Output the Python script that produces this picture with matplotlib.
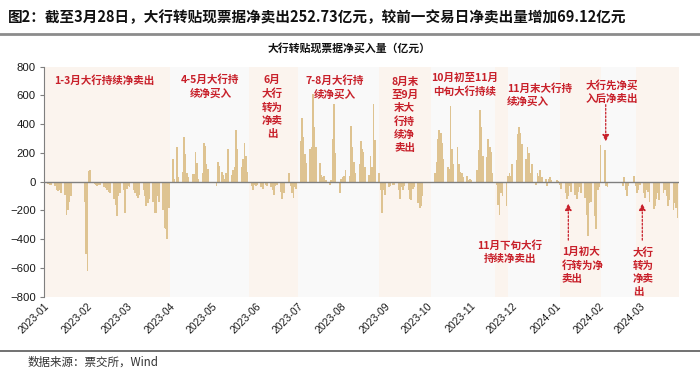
import datetime as dt
import matplotlib
matplotlib.use('Agg')
import matplotlib.pyplot as plt
import matplotlib.dates as mdates
from matplotlib.lines import Line2D

plt.rcParams['font.family'] = ['Liberation Sans', 'Noto Sans CJK SC']
CJK = ['Noto Sans CJK SC', 'DejaVu Sans']

# ---- data: 大行转贴现票据净买入量 (亿元), one value per trading day ----
jan23_days = [3, 4, 5, 6, 9, 10, 11, 12, 13, 16, 17, 18, 19, 20, 30, 31]
jan23_vals = [-10, -15, -20, -25, -30, -60, -65, -60, -80, -90, -235, -200, -140, -100, -140, -500]
feb23_days = [1, 2, 3, 6, 7, 8, 9, 10, 13, 14, 15, 16, 17, 20, 21, 22, 23, 24, 27, 28]
feb23_vals = [-620, 75, 80, -15, -20, -30, -25, -20, -35, -45, -60, -75, -80, -120, -160, -240, -100, -80, -60, -220]
mar23_days = [1, 2, 3, 6, 7, 8, 9, 10, 13, 14, 15, 16, 17, 20, 21, 22, 23, 24, 27, 28, 29, 30, 31]
mar23_vals = [-50, -30, -40, -60, -80, -100, -110, -90, -60, -100, -170, -150, -120, -140, -220, -215, -100, -140,
              -200, -320, -330, -400, -180]
apr23_days = [3, 4, 6, 7, 10, 11, 12, 13, 14, 17, 18, 19, 20, 21, 24, 25, 26, 27, 28]
apr23_vals = [160, 20, 240, 30, 70, 310, 190, 60, 30, 55, 55, 210, 130, 20, 60, 270, 250, 120, 90]
may23_days = [4, 5, 6, 8, 9, 10, 11, 12, 15, 16, 17, 18, 19, 22, 23, 24, 25, 26, 29, 30, 31]
may23_vals = [-30, 140, 110, 70, 50, 20, 60, 230, 50, 80, 100, 360, 230, 100, 160, 270, 180, 70, -30, -60, -20]
jun23_days = [1, 2, 5, 6, 7, 8, 9, 12, 13, 14, 15, 16, 19, 20, 21, 25, 26, 27, 28, 29, 30]
jun23_vals = [-30, -20, -40, -50, -10, -20, -30, -40, -60, -90, -30, -20, -70, -120, -80, 60, -30, -80, -110, -40, -50]
jul23_days = [3, 4, 5, 6, 7, 10, 11, 12, 13, 14, 17, 18, 19, 20, 21, 24, 25, 26, 27, 28, 31]
jul23_vals = [280, 440, 310, 190, 130, 230, 240, 610, 380, 240, 130, 50, 30, 40, 10, -20, 10, 300, 540, 200, -80]
aug23_days = [1, 2, 3, 4, 7, 8, 9, 10, 11, 14, 15, 16, 17, 18, 21, 22, 23, 24, 25, 28, 29, 30, 31]
aug23_vals = [20, 30, 40, 80, 40, 390, 240, 140, 60, 120, 280, 230, 210, 100, 50, 180, 100, 540, 290, 60, -60, -220, -60]
sep23_days = [1, 4, 5, 6, 7, 8, 11, 12, 13, 14, 15, 18, 19, 20, 21, 22, 25, 26, 27, 28]
sep23_vals = [-90, -40, -30, -10, -20, -20, -60, -120, -40, -60, -30, -60, -120, -130, -50, -40, -150, -180, -170, -100]
oct23_days = [7, 8, 9, 10, 11, 12, 13, 16, 17, 18, 19, 20, 23, 24, 25, 26, 27, 30, 31]
oct23_vals = [60, 140, 300, 360, 340, 270, 160, 100, 90, 530, 230, 120, 240, 120, 70, 60, 30, 40, 10]
nov23_days = [1, 2, 3, 6, 7, 8, 9, 10, 13, 14, 15, 16, 17, 20, 21, 22, 23, 24, 27, 28, 29, 30]
nov23_vals = [20, 10, -10, 80, 220, 500, 380, 180, 170, 300, 240, 210, 60, -20, -160, -230, -80, -100, -170, 40, 60, 40]
dec23_days = [1, 4, 5, 6, 7, 8, 11, 12, 13, 14, 15, 18, 19, 20, 21, 22, 25, 26, 27, 28, 29]
dec23_vals = [120, 150, 330, 380, 340, 260, 160, 240, 200, 60, 120, -20, 60, 40, 80, 30, 20, -30, 20, 30, 10]
jan24_days = [2, 3, 4, 5, 8, 9, 10, 11, 12, 15, 16, 17, 18, 19, 22, 23, 24, 25, 26, 29, 30, 31]
jan24_vals = [10, 5, -20, -50, -80, -120, -100, -30, -70, -90, -120, -70, -40, -80, -110, -230, -375, -150, -140,
              -240, -330, -60]
feb24_days = [1, 2, 5, 6, 7, 8, 18, 19, 20, 21, 22, 23, 26, 27, 28, 29]
feb24_vals = [-40, 257, 223, -30, -40, -10, -30, 30, -60, -100, -30, -10, 40, -30, -80, -60]
mar24_days = [1, 4, 5, 6, 7, 8, 11, 12, 13, 14, 15, 18, 19, 20, 21, 22, 25, 26, 27, 28]
mar24_vals = [-20, -80, -110, -60, -70, -140, -190, -170, -120, -80, -130, -80, -60, -100, -170, -130, -200, -150,
              -183.61, -252.73]

months = [
    (2023, 1, jan23_days, jan23_vals), (2023, 2, feb23_days, feb23_vals), (2023, 3, mar23_days, mar23_vals),
    (2023, 4, apr23_days, apr23_vals), (2023, 5, may23_days, may23_vals), (2023, 6, jun23_days, jun23_vals),
    (2023, 7, jul23_days, jul23_vals), (2023, 8, aug23_days, aug23_vals), (2023, 9, sep23_days, sep23_vals),
    (2023, 10, oct23_days, oct23_vals), (2023, 11, nov23_days, nov23_vals), (2023, 12, dec23_days, dec23_vals),
    (2024, 1, jan24_days, jan24_vals), (2024, 2, feb24_days, feb24_vals), (2024, 3, mar24_days, mar24_vals),
]

dates, values = [], []
for y, m, days, vals in months:
    for d, v in zip(days, vals):
        dates.append(dt.date(y, m, d))
        values.append(v)

# background periods (start, end, colour)
period_bounds = ['2023-01-01', '2023-04-01', '2023-05-27', '2023-07-01', '2023-08-28', '2023-10-04',
                 '2023-11-19', '2023-11-28', '2024-01-04', '2024-02-02', '2024-02-27', '2024-03-30']
period_colors = ['#FBF4EE', '#F9F9F9'] * 6

# annotation texts: (x frac, y frac, text, ha)
notes = [
    (0.095, 0.938, '1-3月大行持续净卖出', 'center'),
    (0.262, 0.915, '4-5月大行持\n续净买入', 'center'),
    (0.359, 0.825, '6月\n大行\n转为\n净卖\n出', 'center'),
    (0.458, 0.910, '7-8月大行持\n续净买入', 'center'),
    (0.568, 0.790, '8月末\n至9月\n末大\n行持\n续净\n卖出', 'center'),
    (0.663, 0.922, '10月初至11月\n中旬大行持续', 'center'),
    (0.729, 0.877, '11月末大行持\n续净买入', 'left'),
    (0.8945, 0.890, '大行先净买\n入后净卖出', 'center'),
    (0.7335, 0.193, '11月下旬大行\n持续净卖出', 'center'),
    (0.8155, 0.134, '1月初大\n行转为净\n卖出', 'left'),
    (0.9275, 0.107, '大行\n转为\n净卖\n出', 'left'),
]
# arrows: (x frac, tail y frac, head y frac)
arrows = [(0.8846, 0.835, 0.675), (0.8257, 0.246, 0.405), (0.9422, 0.246, 0.405)]

RED = '#C8202A'

fig = plt.figure(figsize=(7, 3.73), dpi=100)
ax = fig.add_axes([44 / 700, 76.3 / 373, 635 / 700, 230 / 373])

for i in range(len(period_bounds) - 1):
    ax.axvspan(mdates.datestr2num(period_bounds[i]), mdates.datestr2num(period_bounds[i + 1]),
               color=period_colors[i], lw=0, zorder=0)

ax.bar(dates, values, width=1.25, color='#DEC391', edgecolor='none', zorder=2)
ax.axhline(0, color='#7F7F7F', lw=1, zorder=3)

ax.set_ylim(-800, 800)
ax.set_yticks(range(-800, 801, 200))
ax.set_xlim(mdates.datestr2num('2023-01-01'), mdates.datestr2num('2024-03-29'))
ax.xaxis.set_major_locator(mdates.MonthLocator())
ax.xaxis.set_major_formatter(mdates.DateFormatter('%Y-%m'))
for s in ['top', 'right', 'bottom']:
    ax.spines[s].set_visible(False)
ax.spines['left'].set_color('#7F7F7F')
ax.tick_params(axis='y', length=3, color='#7F7F7F', labelsize=8.2, pad=3, labelcolor='#1A1A1A')
ax.tick_params(axis='x', length=0, labelsize=7.6, pad=3, labelcolor='#1A1A1A')
for lab in ax.get_xticklabels():
    lab.set_rotation(45)
    lab.set_ha('right')
    lab.set_rotation_mode('anchor')

for x, y, t, ha in notes:
    ax.text(x, y, t, transform=ax.transAxes, ha=ha, va='center', color=RED, fontsize=7.6,
            fontweight='bold', family=CJK, linespacing=1.38, multialignment=ha, zorder=5)
for x, y0, y1 in arrows:
    ax.annotate('', xy=(x, y1), xytext=(x, y0), xycoords='axes fraction', textcoords='axes fraction',
                arrowprops=dict(arrowstyle='-|>', color=RED, lw=0.9, ls=(0, (1.5, 1.5)),
                                mutation_scale=10, shrinkA=0, shrinkB=0), zorder=5)

fig.text(8 / 700, 1 - 17 / 373, '图2：截至3月28日，大行转贴现票据净卖出252.73亿元，较前一交易日净卖出量增加69.12亿元',
         ha='left', va='center', fontsize=10.5, fontweight='bold', family=CJK, color='#111111')
fig.add_artist(Line2D([0, 1], [1 - 33.5 / 373, 1 - 33.5 / 373], transform=fig.transFigure,
                      color='#8C8C8C', lw=2))
fig.text(349 / 700, 1 - 48 / 373, '大行转贴现票据净买入量（亿元）', ha='center', va='center',
         fontsize=7.8, fontweight='bold', family=CJK, color='#111111')
fig.add_artist(Line2D([0, 1], [1 - 351 / 373, 1 - 351 / 373], transform=fig.transFigure,
                      color='#595959', lw=1.2))
fig.text(28 / 700, 1 - 362 / 373, '数据来源：票交所，Wind', ha='left', va='center', fontsize=8.3,
         family=CJK, color='#333333')

fig.savefig('out.png', dpi=100)
